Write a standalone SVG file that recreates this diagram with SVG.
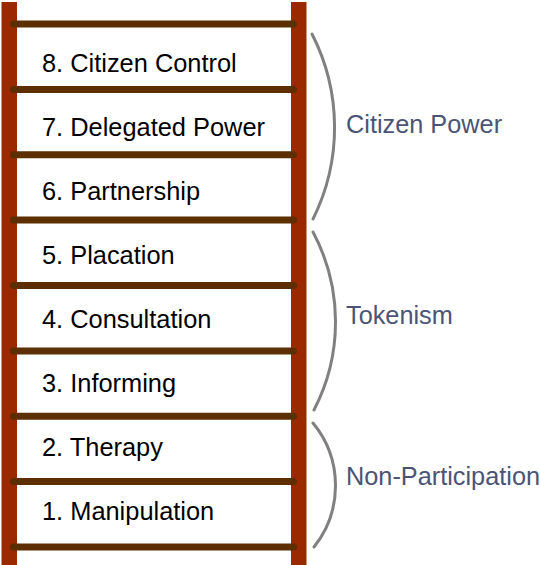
<svg xmlns="http://www.w3.org/2000/svg" width="540" height="565" viewBox="0 0 540 565">
<style>
.rail{fill:#9b2900}
.rung{stroke:#5c2e00;stroke-width:7;stroke-linecap:round}
.lbl{font-family:"Liberation Sans",Arial,sans-serif;font-size:25.4px;fill:#000}
.grp{font-family:"Liberation Sans",Arial,sans-serif;font-size:25.3px;fill:#4b5475}
.br{fill:none;stroke:#808080;stroke-width:3;stroke-linecap:round}
</style>
<rect width="540" height="565" fill="#fff"/>
<g id="ladder">
<rect class="rail" x="1.5" y="2" width="15.5" height="563"/>
<rect class="rail" x="291" y="2" width="15.5" height="563"/>
<line class="rung" x1="13.5" y1="24" x2="293.5" y2="24"/>
<line class="rung" x1="13.5" y1="89.4" x2="293.5" y2="89.4"/>
<line class="rung" x1="13.5" y1="154.8" x2="293.5" y2="154.8"/>
<line class="rung" x1="13.5" y1="220.1" x2="293.5" y2="220.1"/>
<line class="rung" x1="13.5" y1="285.5" x2="293.5" y2="285.5"/>
<line class="rung" x1="13.5" y1="350.9" x2="293.5" y2="350.9"/>
<line class="rung" x1="13.5" y1="416.3" x2="293.5" y2="416.3"/>
<line class="rung" x1="13.5" y1="481.6" x2="293.5" y2="481.6"/>
<line class="rung" x1="13.5" y1="547" x2="293.5" y2="547"/>
</g>
<g id="rung8"><text class="lbl" x="42" y="72">8. Citizen Control</text></g>
<g id="rung7"><text class="lbl" x="42" y="136">7. Delegated Power</text></g>
<g id="rung6"><text class="lbl" x="42" y="200">6. Partnership</text></g>
<g id="rung5"><text class="lbl" x="42" y="264">5. Placation</text></g>
<g id="rung4"><text class="lbl" x="42" y="328">4. Consultation</text></g>
<g id="rung3"><text class="lbl" x="42" y="392">3. Informing</text></g>
<g id="rung2"><text class="lbl" x="42" y="456">2. Therapy</text></g>
<g id="rung1"><text class="lbl" x="42" y="520">1. Manipulation</text></g>
<g id="connectors">
<path class="br" d="M312 34 A205 205 0 0 1 313 219"/>
<path class="br" d="M313 232 A191 191 0 0 1 314 410"/>
<path class="br" d="M313 423 A98.4 98.4 0 0 1 314 547"/>
</g>
<g id="citizen-power"><text class="grp" x="346" y="133">Citizen Power</text></g>
<g id="tokenism"><text class="grp" x="346" y="324">Tokenism</text></g>
<g id="non-participation"><text class="grp" x="346" y="485">Non-Participation</text></g>
</svg>
